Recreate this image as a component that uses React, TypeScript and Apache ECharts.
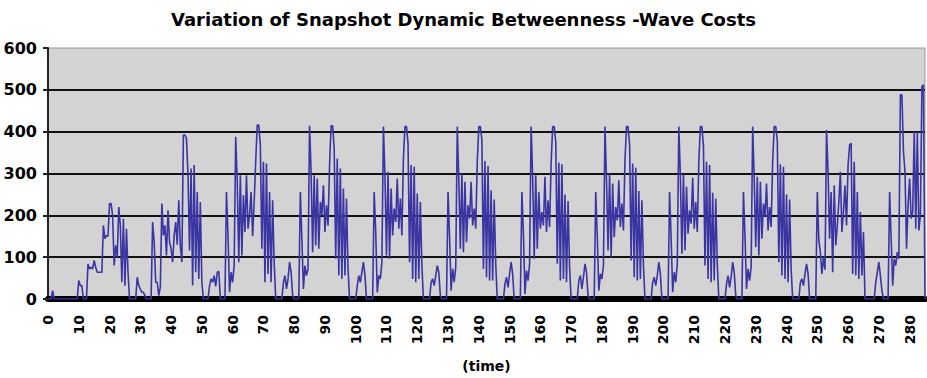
import React, { useEffect, useRef } from "react";
import * as echarts from "echarts";

// time step between samples (time units)
const timeStep = 0.5;
const xTickLabels = ["0","10","20","30","40","50","60","70","80","90","100","110","120","130","140","150","160","170","180","190","200","210","220","230","240","250","260","270","280"];
const yTicks = [0, 100, 200, 300, 400, 500, 600];

// values, t = 0 .. 9.5
const lead = [0,0,0,20,0,0,0,0,0,0,0,0,0,0,0,0,0,0,0,0];
// wave cycles, 24 time units each (48 samples)
const cycle0 = [44,32,32,0,0,0,84,72,76,72,92,76,64,64,64,64,176,144,152,150,228,228,200,80,128,100,220,176,40,192,32,168,64,0,0,0,0,0,52,32,24,16,16,8,0,0,0,0];
const cycle1 = [184,136,40,40,8,28,228,152,176,104,212,136,120,88,152,184,130,236,128,88,392,392,384,296,116,312,32,320,64,256,48,232,40,0,0,0,0,32,48,40,56,30,64,66,0,0,0,0];
const cycle2 = [256,152,16,64,40,80,388,280,88,296,104,248,160,296,168,200,256,150,232,330,416,416,368,120,328,40,324,60,256,40,236,88,0,0,0,0,0,40,56,24,48,88,64,8,0,0,0,0];
const cycle3 = [256,144,24,80,56,72,414,304,112,296,128,288,120,232,200,272,160,224,176,320,414,414,360,96,336,56,312,48,264,56,240,72,0,0,0,0,0,32,56,40,64,88,56,0,0,0,0,0];
const cycle4 = [256,160,16,56,48,88,412,296,104,304,96,264,152,216,184,288,168,240,152,336,412,412,372,88,320,48,316,40,252,48,232,80,0,0,0,0,0,40,48,32,56,80,64,8,0,0,0,0];
const cycle5 = [256,148,20,72,40,76,412,288,120,300,112,280,136,224,192,280,176,216,168,328,412,412,380,72,330,52,318,44,260,44,238,84,0,0,0,0,0,36,52,28,60,88,60,0,0,0,0,0];
const cycle6 = [256,156,12,68,44,84,412,292,96,296,120,256,168,208,176,292,160,236,172,324,412,412,376,84,326,44,322,48,250,40,234,76,0,0,0,0,0,44,56,24,52,84,64,8,0,0,0,0];
const cycle7 = [256,150,20,60,48,80,412,284,116,300,100,276,148,220,188,284,172,228,164,332,412,412,370,92,324,52,314,44,258,48,236,80,0,0,0,0,0,40,52,32,56,88,60,0,0,0,0,0];
const cycle8 = [256,146,16,64,40,84,412,296,108,298,116,268,156,212,180,290,168,232,160,328,412,412,366,80,328,48,320,40,254,44,240,84,0,0,0,0,0,36,56,28,52,88,64,8,0,0,0,0];
const cycle9 = [256,152,24,72,44,76,412,288,124,292,104,280,144,228,196,276,164,220,172,330,412,412,378,88,322,56,316,48,250,40,238,72,0,0,0,0,0,40,48,32,60,84,60,0,0,0,0,0];
const cycle10 = [256,140,112,60,100,70,404,304,144,256,64,272,128,176,232,304,160,208,272,176,320,368,372,60,328,56,256,48,208,56,160,0,0,0,0,0,0,0,40,64,88,56,20,0,0,0,0,256];
// t = 274 .. 285
const tail = [144,32,96,80,112,96,488,488,352,304,120,224,288,192,208,400,168,400,164,200,508,512,0];

const values = [
  ...lead, ...cycle0, ...cycle1, ...cycle2, ...cycle3, ...cycle4, ...cycle5,
  ...cycle6, ...cycle7, ...cycle8, ...cycle9, ...cycle10, ...tail,
];
const categories = values.map((_, i) => String(i * timeStep));

const FONT = "DejaVu Sans";

export default function App() {
  const ref = useRef<HTMLDivElement>(null);
  useEffect(() => {
    if (!ref.current) return;
    const chart = echarts.init(ref.current, null, { renderer: "svg" });
    chart.setOption({
      animation: false,
      backgroundColor: "#ffffff",
      title: {
        text: "Variation of Snapshot Dynamic Betweenness -Wave Costs",
        left: "center",
        top: 5,
        textStyle: { fontFamily: FONT, fontWeight: "bold", fontSize: 18, color: "#000" },
      },
      grid: {
        left: 48,
        right: 2,
        top: 48,
        bottom: 78,
        show: true,
        backgroundColor: "#d3d3d3",
        borderColor: "#9a9a9a",
        borderWidth: 1,
      },
      xAxis: {
        type: "category",
        data: categories,
        boundaryGap: false,
        offset: 3,
        axisLine: { show: true, lineStyle: { color: "#000", width: 6 } },
        axisTick: { show: false },
        axisLabel: {
          rotate: 90,
          interval: (_i: number, v: string) => xTickLabels.includes(v),
          fontFamily: FONT,
          fontWeight: "bold",
          fontSize: 14,
          color: "#000",
          margin: 13,
        },
        splitLine: { show: false },
        name: "(time)",
        nameLocation: "middle",
        nameGap: 57,
        nameTextStyle: { fontFamily: FONT, fontWeight: "bold", fontSize: 14, color: "#000" },
      },
      yAxis: {
        type: "value",
        min: yTicks[0],
        max: yTicks[yTicks.length - 1],
        interval: 100,
        axisLine: { show: true, lineStyle: { color: "#222", width: 2 } },
        axisTick: { show: true, length: 5, lineStyle: { color: "#222", width: 2 } },
        axisLabel: {
          fontFamily: FONT,
          fontWeight: "bold",
          fontSize: 16,
          color: "#000",
          margin: 11,
        },
        splitLine: { show: true, showMaxLine: false, lineStyle: { color: "#111", width: 2 } },
      },
      series: [
        {
          type: "line",
          data: values,
          showSymbol: false,
          symbol: "none",
          lineStyle: { color: "#3b35a3", width: 1.6 },
        },
      ],
    });
    return () => chart.dispose();
  }, []);
  return (
    <div
      ref={ref}
      style={{ position: "fixed", left: 0, top: 0, width: 927, height: 378 }}
    />
  );
}
